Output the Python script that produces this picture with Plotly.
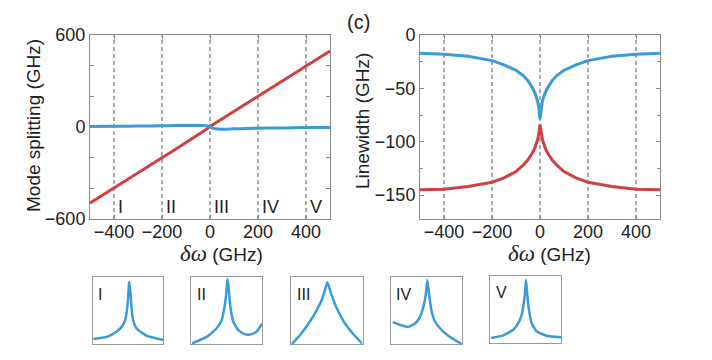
import plotly.graph_objects as go

# the page body adds an 8 px margin, so the figure is drawn 8 px in from the corner
OFF = 8
W, H = 712 - OFF, 360 - OFF

# ---------------- data ----------------
# Panel (b): mode splitting vs detuning
split_x = [-500, -400, -300, -200, -150, -100, -60, -30, -10, 0, 10, 30, 60, 100, 150, 200, 300, 400, 500]
split_red = [-495, -398, -300, -201, -151, -101, -62, -32, -10, 4, 14, 34, 63, 101, 151, 200, 299, 398, 496]
split_blue = [4, 5, 6, 8, 9, 10, 10, 9, 7, 3, -7, -13, -14, -12, -10, -8, -6, -4, -3]

# Panel (c): linewidth vs detuning
lw_x = [-500, -400, -300, -200, -150, -100, -70, -50, -30, -20, -10, -5, 0,
        5, 10, 20, 30, 50, 70, 100, 150, 200, 300, 400, 500]
lw_blue = [-17, -18, -20, -24, -28, -33, -38, -43, -50, -55, -62, -68, -79,
           -68, -62, -55, -50, -43, -38, -33, -28, -24, -20, -18, -17]
lw_red = [-145, -144.5, -142, -138, -134, -128, -122, -117, -110, -105, -98, -93, -84,
          -93, -98, -105, -110, -117, -122, -128, -134, -138, -142, -144.5, -145]

dashed_x = [-400, -200, 0, 200, 400]
region_labels = ["I", "II", "III", "IV", "V"]

# Inset spectra (normalised frequency 0..1, normalised intensity 0..1)
inset_I_x = [0.01, 0.2, 0.34, 0.41, 0.46, 0.482, 0.5, 0.514, 0.52, 0.54, 0.566, 0.62, 0.76, 1.0]
inset_I_y = [0.08, 0.11, 0.19, 0.26, 0.36, 0.49, 0.68, 0.91, 0.935, 0.69, 0.39, 0.24, 0.13, 0.065]
inset_II_x = [0.014, 0.22, 0.36, 0.43, 0.467, 0.49, 0.504, 0.514, 0.533, 0.556, 0.593, 0.664, 0.757, 0.85, 0.92, 1.0]
inset_II_y = [0.015, 0.11, 0.24, 0.36, 0.54, 0.71, 0.89, 0.975, 0.78, 0.53, 0.34, 0.21, 0.15, 0.15, 0.19, 0.31]
inset_III_x = [0.014, 0.126, 0.265, 0.358, 0.428, 0.474, 0.507, 0.544, 0.591, 0.661, 0.754, 0.87, 0.99]
inset_III_y = [0.005, 0.14, 0.34, 0.51, 0.66, 0.81, 0.925, 0.81, 0.66, 0.49, 0.31, 0.15, 0.015]
inset_IV_x = [0.028, 0.131, 0.249, 0.343, 0.413, 0.46, 0.493, 0.516, 0.545, 0.577, 0.624, 0.718, 0.836, 1.0]
inset_IV_y = [0.33, 0.29, 0.26, 0.31, 0.41, 0.56, 0.73, 0.96, 0.71, 0.49, 0.34, 0.21, 0.11, 0.005]
inset_V_x = [0.014, 0.188, 0.329, 0.399, 0.446, 0.479, 0.498, 0.507, 0.521, 0.545, 0.587, 0.657, 0.798, 1.0]
inset_V_y = [0.075, 0.114, 0.198, 0.297, 0.42, 0.619, 0.817, 0.941, 0.767, 0.52, 0.297, 0.173, 0.109, 0.084]
insets = [(inset_I_x, inset_I_y), (inset_II_x, inset_II_y), (inset_III_x, inset_III_y),
          (inset_IV_x, inset_IV_y), (inset_V_x, inset_V_y)]

# ---------------- style ----------------
BLUE = "#3a9bd9"
RED = "#cf4040"
AXC = "#8a8a8a"
TXT = "#222222"
FONT = "Liberation Sans, Arial, sans-serif"

def px_x(p):
    return (p - OFF) / W

def px_y(p):
    return 1 - (p - OFF) / H

fig = go.Figure()

# main panels
fig.add_trace(go.Scatter(x=split_x, y=split_red, mode="lines", line=dict(color=RED, width=3),
                         xaxis="x", yaxis="y", showlegend=False))
fig.add_trace(go.Scatter(x=split_x, y=split_blue, mode="lines", line=dict(color=BLUE, width=3, shape="spline", smoothing=0.6),
                         xaxis="x", yaxis="y", showlegend=False))
fig.add_trace(go.Scatter(x=lw_x, y=lw_blue, mode="lines", line=dict(color=BLUE, width=3),
                         xaxis="x2", yaxis="y2", showlegend=False))
fig.add_trace(go.Scatter(x=lw_x, y=lw_red, mode="lines", line=dict(color=RED, width=3),
                         xaxis="x2", yaxis="y2", showlegend=False))

base_axis = dict(showline=True, linecolor=AXC, linewidth=1, mirror="ticks", ticks="inside",
                 ticklen=4, tickcolor=AXC, showgrid=False, zeroline=False, automargin=False,
                 tickfont=dict(family=FONT, size=18, color=TXT))

main_y_dom = [px_y(219), px_y(35)]
layout = dict(
    width=W, height=H, autosize=False,
    margin=dict(l=0, r=0, t=0, b=0, pad=0, autoexpand=False),
    paper_bgcolor="white", plot_bgcolor="white",
    xaxis=dict(base_axis, domain=[px_x(90), px_x(330)], range=[-500, 500], tick0=0, dtick=200,
               anchor="y", ticklabelstandoff=-4),
    yaxis=dict(base_axis, domain=main_y_dom, range=[-600, 600], tick0=0, dtick=600,
               minor=dict(dtick=200, ticks="inside", ticklen=4, tickcolor=AXC), anchor="x"),
    xaxis2=dict(base_axis, domain=[px_x(420), px_x(660)], range=[-500, 500], tick0=0, dtick=200,
                anchor="y2", ticklabelstandoff=-4),
    yaxis2=dict(base_axis, domain=main_y_dom, range=[-172.5, 0], tick0=0, dtick=50,
                minor=dict(dtick=25, ticks="inside", ticklen=3, tickcolor=AXC), anchor="x2"),
)

shapes = []
for xv in dashed_x:
    for xa, ya in (("x", "y"), ("x2", "y2")):
        shapes.append(dict(type="line", xref=xa, yref=ya + " domain", x0=xv, x1=xv, y0=0, y1=1,
                           line=dict(color="#555555", width=1, dash="4px,3px"), layer="below"))

annotations = []
# region numerals in left panel
for xv, lab in zip(dashed_x, region_labels):
    annotations.append(dict(x=xv, y=-522, xref="x", yref="y", text=lab, showarrow=False,
                            xanchor="left", yanchor="middle", xshift=2,
                            font=dict(family=FONT, size=18, color=TXT)))

# axis titles and panel label
dw = ("<span style='font-family:Liberation Serif, Times New Roman, serif; font-size:23px'>"
      "<i>δω</i></span> (GHz)")
for x, y, text, ang, size in [
    (33, 126, "Mode splitting (GHz)", -90, 19),
    (362, 121, "Linewidth (GHz)", -90, 19),
    (221, 253, dw, 0, 19),
    (549, 253, dw, 0, 19),
    (358, 22, "(c)", 0, 20),
]:
    annotations.append(dict(x=px_x(x), y=px_y(y), xref="paper", yref="paper", text=text,
                            textangle=ang, showarrow=False, xanchor="center", yanchor="middle",
                            font=dict(family=FONT, size=size, color=TXT)))

# insets
inset_boxes = [(92.7, 163.3, 277.3, 344.3), (191, 262.3, 277.3, 344.3), (291, 362.7, 277.3, 344.3),
               (390.7, 461.7, 277.3, 344.3), (490, 561, 276, 343)]
for i, ((ix, iy), (x0, x1, yt, yb), lab) in enumerate(zip(insets, inset_boxes, region_labels)):
    n = i + 3
    xa, ya = f"x{n}", f"y{n}"
    fig.add_trace(go.Scatter(x=ix, y=iy, mode="lines",
                             line=dict(color=BLUE, width=2.5, shape="spline", smoothing=0.5),
                             xaxis=xa, yaxis=ya, showlegend=False))
    layout[f"xaxis{n}"] = dict(domain=[px_x(x0), px_x(x1)], range=[0, 1], showline=True, mirror=True,
                               linecolor="#999999", linewidth=1, showticklabels=False, ticks="",
                               showgrid=False, zeroline=False, anchor=ya, fixedrange=True)
    layout[f"yaxis{n}"] = dict(domain=[px_y(yb), px_y(yt)], range=[0, 1], showline=True, mirror=True,
                               linecolor="#999999", linewidth=1, showticklabels=False, ticks="",
                               showgrid=False, zeroline=False, anchor=xa, fixedrange=True)
    annotations.append(dict(x=0.05, y=0.75, xref=f"{xa} domain", yref=f"{ya} domain", text=lab,
                            showarrow=False, xanchor="left", yanchor="middle",
                            font=dict(family=FONT, size=16, color=TXT)))

layout["shapes"] = shapes
layout["annotations"] = annotations
fig.update_layout(**layout)

fig.write_html("out.html")
